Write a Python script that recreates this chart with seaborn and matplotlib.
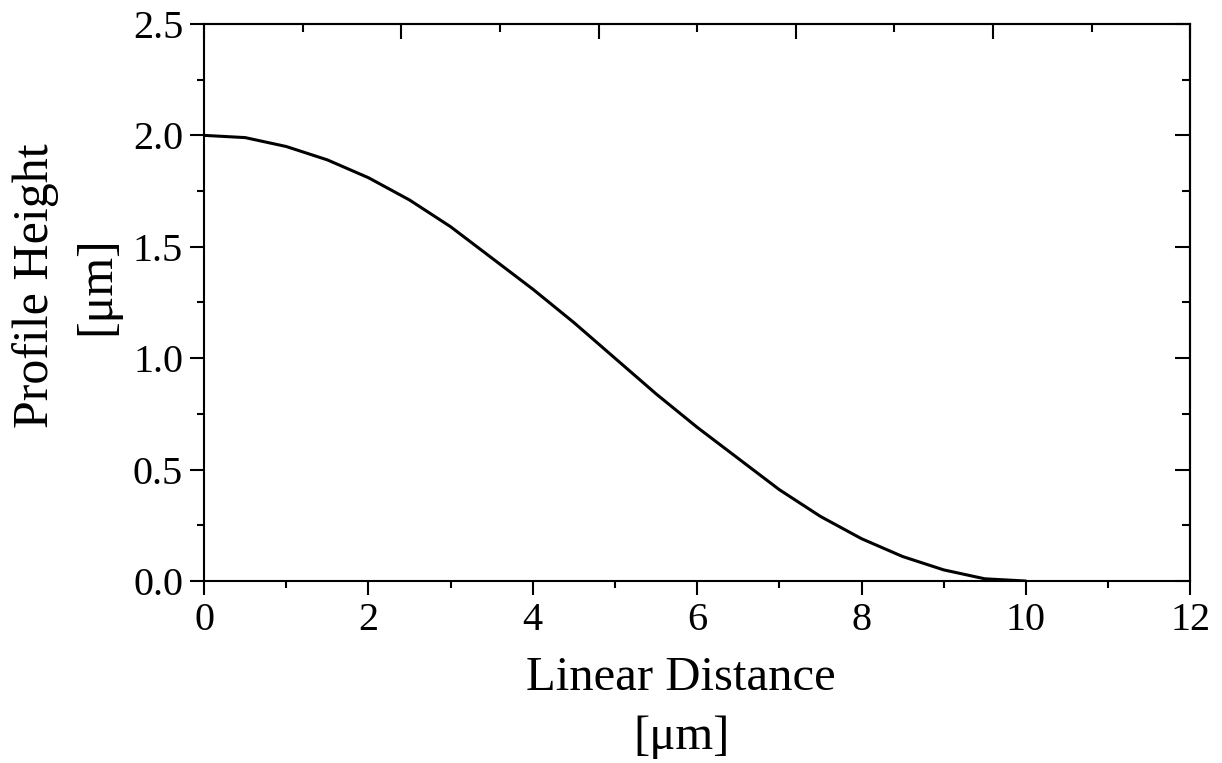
import matplotlib
matplotlib.use("Agg")
import matplotlib.pyplot as plt
import seaborn as sns
import pandas as pd
from matplotlib.ticker import MultipleLocator

distance = [0, 0.5, 1, 1.5, 2, 2.5, 3, 3.5, 4, 4.5, 5, 5.5, 6, 6.5, 7, 7.5, 8, 8.5, 9, 9.5, 10]
height = [2.0, 1.99, 1.95, 1.89, 1.81, 1.71, 1.59, 1.45, 1.31, 1.16, 1.0, 0.84, 0.69, 0.55, 0.41, 0.29, 0.19, 0.11, 0.05, 0.01, 0.0]
x_ticks = [0, 2, 4, 6, 8, 10, 12]
x_tick_labels = ["0", "2", "4", "6", "8", "10", "12"]
y_ticks = [0, 0.5, 1.0, 1.5, 2.0, 2.5]
y_tick_labels = ["0.0", "0.5", "1.0", "1.5", "2.0", "2.5"]
top_ticks = [0, 2.4, 4.8, 7.2, 9.6, 12]

df = pd.DataFrame({"x": distance, "y": height})

sns.set_theme(style="white")
plt.rcParams['font.family'] = ['Liberation Serif', 'DejaVu Serif']

fig = plt.figure(figsize=(12.22, 7.63), dpi=100)
ax = fig.add_axes([0.167, 0.2385, 0.807, 0.7301])

sns.lineplot(data=df, x="x", y="y", ax=ax, color="black", linewidth=2.2)

ax.set_xlim(0, 12)
ax.set_ylim(0, 2.5)
ax.set_xticks(x_ticks)
ax.set_xticklabels(x_tick_labels)
ax.xaxis.set_minor_locator(MultipleLocator(1))
ax.set_yticks(y_ticks)
ax.set_yticklabels(y_tick_labels)
ax.yaxis.set_minor_locator(MultipleLocator(0.25))

lw = 1.5
for s in ax.spines.values():
    s.set_color("black")
    s.set_linewidth(lw)

ax.tick_params(axis="both", which="major", direction="out", length=10, width=lw,
               labelsize=29, colors="black", pad=5)
ax.tick_params(axis="both", which="minor", direction="out", length=5, width=lw, colors="black")
ax.tick_params(bottom=True, left=True, which="both")

# top and right ticks inward, no labels
axt = ax.secondary_xaxis("top")
axt.set_xticks(top_ticks)
axt.xaxis.set_minor_locator(MultipleLocator(1.2))
axt.tick_params(which="major", direction="in", length=11, width=lw, labeltop=False, colors="black")
axt.tick_params(which="minor", direction="in", length=6, width=lw, colors="black")
axt.spines["top"].set_linewidth(lw)
axr = ax.secondary_yaxis("right")
axr.set_yticks(y_ticks)
axr.yaxis.set_minor_locator(MultipleLocator(0.25))
axr.tick_params(which="major", direction="in", length=11, width=lw, labelright=False, colors="black")
axr.tick_params(which="minor", direction="in", length=6, width=lw, colors="black")
axr.spines["right"].set_linewidth(lw)

ax.set_xlabel("Linear Distance\n[μm]", fontsize=35, color="black", linespacing=1.45)
ax.set_ylabel("Profile Height\n[μm]", fontsize=36, color="black", linespacing=1.42)
ax.xaxis.set_label_coords(0.4838, -0.134)
ax.yaxis.set_label_coords(-0.085, 0.53)

fig.savefig("out.png", dpi=100)
